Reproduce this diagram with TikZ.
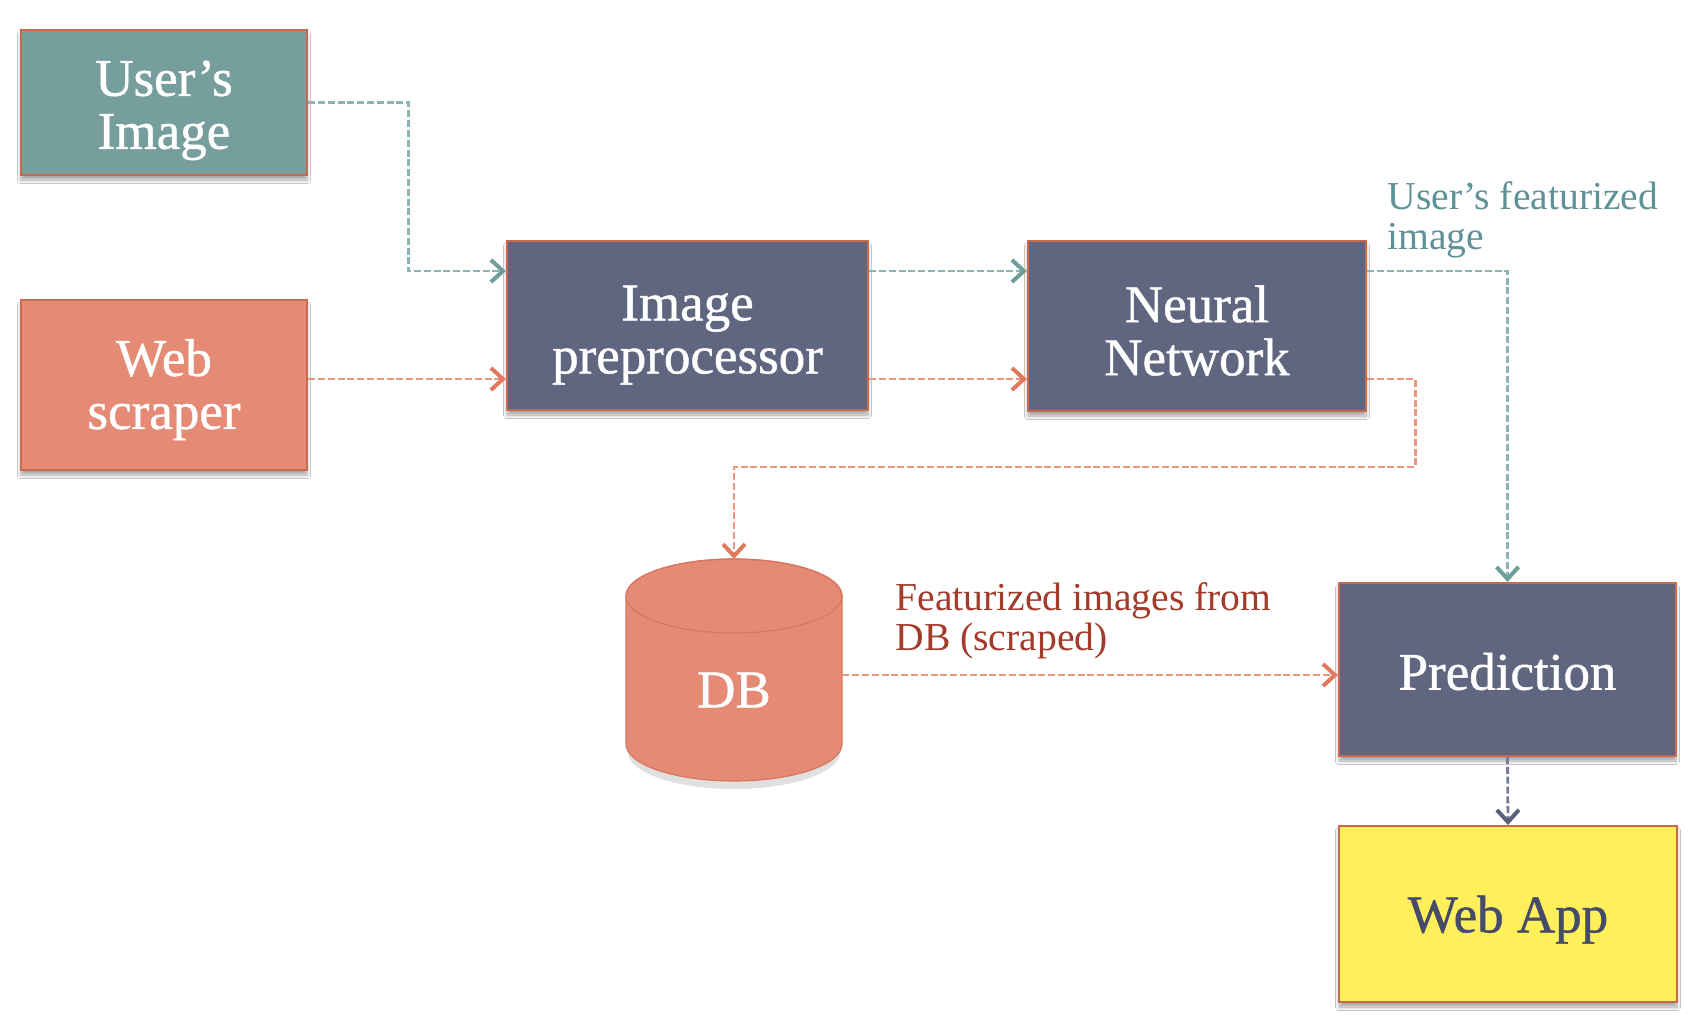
\documentclass[tikz,border=0pt]{standalone}
\usepackage{fontspec}
\setmainfont{Liberation Serif}
\newfontfamily\bxfont[FakeBold=0.9,Ligatures=TeX]{Liberation Serif}
\usetikzlibrary{arrows.meta,calc,shadows.blur}
\definecolor{tealbox}{HTML}{769E9C}
\definecolor{orbox}{HTML}{E58A74}
\definecolor{slatebox}{HTML}{606680}
\definecolor{yelbox}{HTML}{FFF05B}
\definecolor{boxline}{HTML}{C86A4E}
\definecolor{tealline}{HTML}{8DB3B2}
\definecolor{tealtip}{HTML}{6E9E9C}
\definecolor{orline}{HTML}{EA967F}
\definecolor{ortip}{HTML}{E07A5F}
\definecolor{slline}{HTML}{777C94}
\definecolor{sltip}{HTML}{5A607A}
\definecolor{tealtext}{HTML}{5F9296}
\definecolor{redtext}{HTML}{A23B2A}
\definecolor{apptext}{HTML}{474B6A}
\definecolor{dbline}{HTML}{D9775E}
\newcommand\tup[1]{\rule{0pt}{#1pt}}
\begin{document}
\begin{tikzpicture}[x=0.5pt,y=-0.5pt,
  box/.style={draw=boxline, line width=1.1pt, inner sep=0pt, text=white, align=center,
    font=\bxfont\fontsize{26.5}{26.5}\selectfont,
    blur shadow={shadow xshift=0pt, shadow yshift=-2.5pt, shadow blur steps=6, shadow opacity=35}},
  conn/.style={dash pattern=on 3.5pt off 1.4pt, line width=1.4pt},
  tipset/.style={-{Straight Barb[length=6pt,width=11pt,line width=2pt,color=#1]}},
  tealc/.style={conn, draw=tealline, tipset=tealtip},
  orc/.style={conn, draw=orline, tipset=ortip},
  slc/.style={conn, draw=slline, tipset=sltip},
  lab/.style={anchor=north west, inner sep=0pt, align=left, font=\fontsize{19.8}{20}\selectfont}
]
\useasboundingbox[fill=white] (0,0) rectangle (1690,1022);

% boxes
\node[box, fill=tealbox, minimum width=143pt, minimum height=72.5pt] (ui) at (164,102.5) {\tup{25.5}User’s\\Image};
\node[box, fill=orbox, minimum width=143pt, minimum height=85pt] (ws) at (164,385) {\tup{23}Web\\scraper};
\node[box, fill=slatebox, minimum width=180.5pt, minimum height=84.5pt] (pre) at (687.5,325.5) {\tup{27}Image\\preprocessor};
\node[box, fill=slatebox, minimum width=169pt, minimum height=85pt] (nn) at (1197,326) {\tup{23}Neural\\Network};
\node[box, fill=slatebox, minimum width=168.5pt, minimum height=86.5pt] (pred) at (1507.5,669.5) {\tup{20.5}Prediction};
\node[box, fill=yelbox, text=apptext, minimum width=169pt, minimum height=88pt] (app) at (1508,914) {\tup{24}Web App};

% database cylinder
\fill[black, opacity=0.12] (734,752) ellipse[x radius=106, y radius=37];
\filldraw[fill=orbox, draw=dbline, line width=0.6pt]
  (626,596) -- (626,744) arc[start angle=180, end angle=0, x radius=108, y radius=37]
  -- (842,596) arc[start angle=0, end angle=-180, x radius=108, y radius=37] -- cycle;
\draw[dbline, line width=0.6pt] (734,596) ellipse[x radius=108, y radius=37];
\node[inner sep=0pt, minimum width=108pt, minimum height=111.5pt, text=white,
  font=\bxfont\fontsize{26.5}{26.5}\selectfont] (db) at (734,690) {DB};

% labels
\node[lab, text=tealtext] (lab1) at (1387,181) {User’s featurized\\image};
\node[lab, text=redtext] (lab2) at (895,582) {Featurized images from\\DB (scraped)};

% connectors
\coordinate (p1) at ($(pre.west)+(0,-54.5)$);
\coordinate (p2) at ($(pre.west)+(0,53.5)$);
\coordinate (n1) at ($(nn.west)+(0,-55)$);
\coordinate (n2) at ($(nn.west)+(0,53)$);
\coordinate (q) at ($(pred.west)+(0,5.5)$);
\coordinate (dbtop) at (734,559);

\draw[tealc] (ui.east) -- ++(100,0) |- (p1);
\draw[orc] (p2 -| ws.east) -- (p2);
\draw[tealc] (p1 -| pre.east) -- (n1);
\draw[orc] (p2 -| pre.east) -- (n2);
\draw[tealc] (n1 -| nn.east) -| (pred.north);
\draw[orc] (n2 -| nn.east) -- ++(48,0) -- ++(0,88) -| (dbtop);
\draw[orc] (q -| db.east) -- (q);
\draw[slc] (pred.south) -- (app.north);
\end{tikzpicture}
\end{document}
